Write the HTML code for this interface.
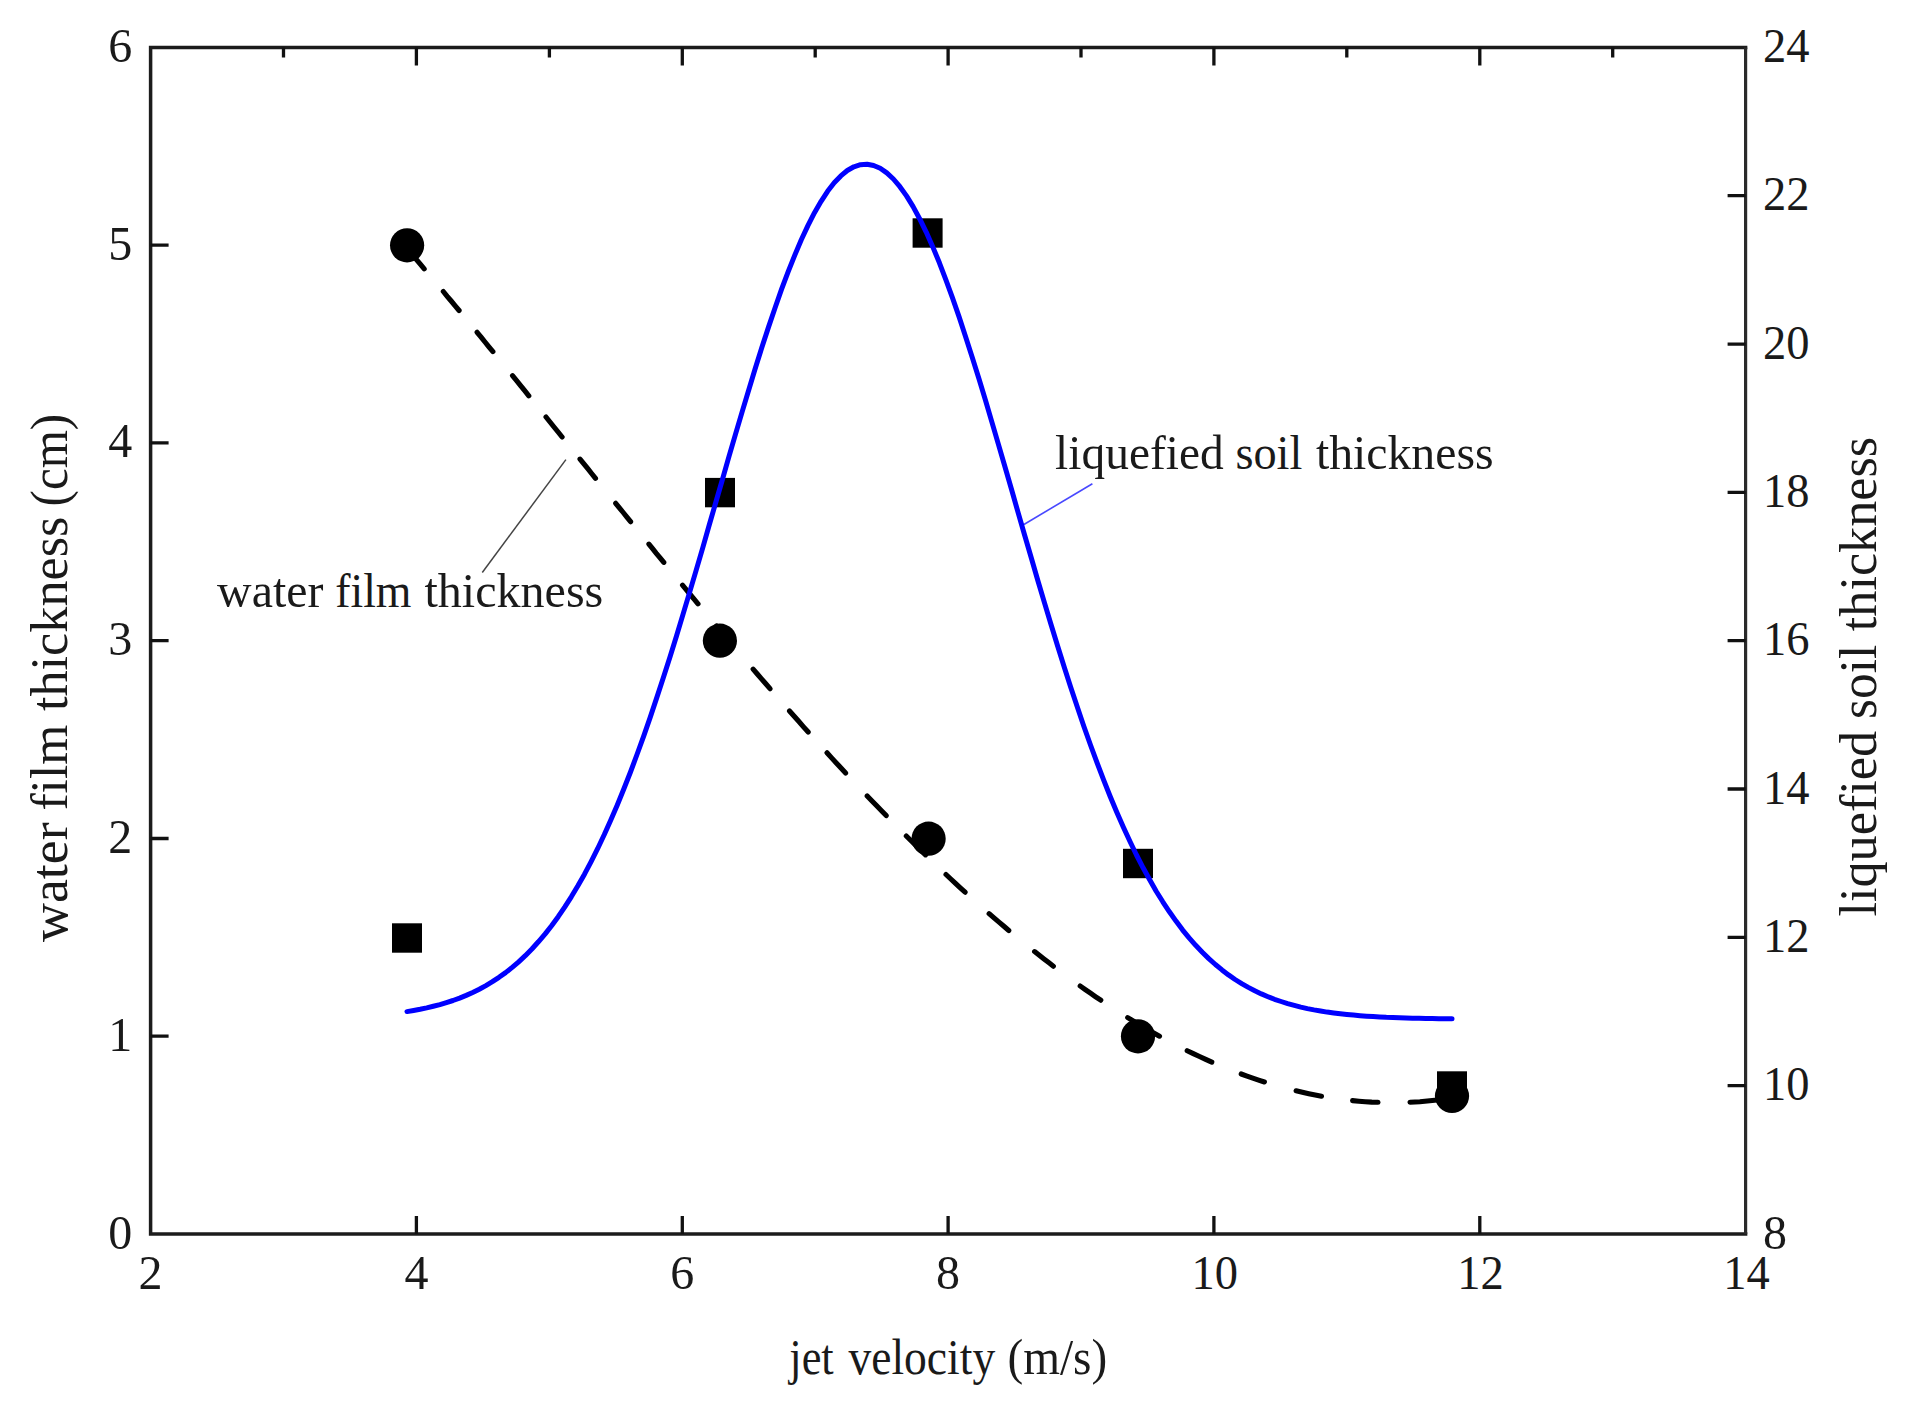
<!DOCTYPE html>
<html lang="en"><head><meta charset="utf-8"><title>jet velocity chart</title>
<style>html,body{margin:0;padding:0;background:#fff;}svg{display:block;}text{font-family:"Liberation Serif","DejaVu Serif",serif;fill:#1a1a1a;}</style></head><body>
<svg width="1913" height="1422" viewBox="0 0 1913 1422">
<rect width="1913" height="1422" fill="#fff"/>
<g fill="none" stroke="#1c1c1c" stroke-width="3.5" stroke-linecap="square">
<path d="M150.6 47.4H1745.6M150.6 1234.0H1745.6M150.6 47.4V1234.0"/>
</g>
<path d="M1745.6 47.4V1234.0" fill="none" stroke="#2a2a2a" stroke-width="3.2" stroke-linecap="butt"/>
<path d="M416.4 47.4v18M416.4 1234.0v-18M682.3 47.4v18M682.3 1234.0v-18M948.1 47.4v18M948.1 1234.0v-18M1213.9 47.4v18M1213.9 1234.0v-18M1479.8 47.4v18M1479.8 1234.0v-18M283.5 47.4v10M549.4 47.4v10M815.2 47.4v10M1081.0 47.4v10M1346.8 47.4v10M1612.7 47.4v10M150.6 1036.2h18M150.6 838.5h18M150.6 640.7h18M150.6 442.9h18M150.6 245.2h18M1745.6 1085.7h-18M1745.6 937.4h-18M1745.6 789.0h-18M1745.6 640.7h-18M1745.6 492.4h-18M1745.6 344.1h-18M1745.6 195.7h-18" fill="none" stroke="#111" stroke-width="3.3"/>
<g font-size="49.5">
<text x="132.3" y="1248.5" text-anchor="end" textLength="24.0" lengthAdjust="spacingAndGlyphs">0</text>
<text x="132.3" y="1050.7" text-anchor="end" textLength="24.0" lengthAdjust="spacingAndGlyphs">1</text>
<text x="132.3" y="853.0" text-anchor="end" textLength="24.0" lengthAdjust="spacingAndGlyphs">2</text>
<text x="132.3" y="655.2" text-anchor="end" textLength="24.0" lengthAdjust="spacingAndGlyphs">3</text>
<text x="132.3" y="457.4" text-anchor="end" textLength="24.0" lengthAdjust="spacingAndGlyphs">4</text>
<text x="132.3" y="259.7" text-anchor="end" textLength="24.0" lengthAdjust="spacingAndGlyphs">5</text>
<text x="132.3" y="61.9" text-anchor="end" textLength="24.0" lengthAdjust="spacingAndGlyphs">6</text>
<text x="1763" y="1248.5" textLength="24.0" lengthAdjust="spacingAndGlyphs">8</text>
<text x="1763" y="1100.2" textLength="46.5" lengthAdjust="spacingAndGlyphs">10</text>
<text x="1763" y="951.9" textLength="46.5" lengthAdjust="spacingAndGlyphs">12</text>
<text x="1763" y="803.5" textLength="46.5" lengthAdjust="spacingAndGlyphs">14</text>
<text x="1763" y="655.2" textLength="46.5" lengthAdjust="spacingAndGlyphs">16</text>
<text x="1763" y="506.9" textLength="46.5" lengthAdjust="spacingAndGlyphs">18</text>
<text x="1763" y="358.6" textLength="46.5" lengthAdjust="spacingAndGlyphs">20</text>
<text x="1763" y="210.2" textLength="46.5" lengthAdjust="spacingAndGlyphs">22</text>
<text x="1763" y="61.9" textLength="46.5" lengthAdjust="spacingAndGlyphs">24</text>
<text x="150.6" y="1289" text-anchor="middle" textLength="24.0" lengthAdjust="spacingAndGlyphs">2</text>
<text x="416.4" y="1289" text-anchor="middle" textLength="24.0" lengthAdjust="spacingAndGlyphs">4</text>
<text x="682.3" y="1289" text-anchor="middle" textLength="24.0" lengthAdjust="spacingAndGlyphs">6</text>
<text x="948.1" y="1289" text-anchor="middle" textLength="24.0" lengthAdjust="spacingAndGlyphs">8</text>
<text x="1214.7" y="1289" text-anchor="middle" textLength="46.5" lengthAdjust="spacingAndGlyphs">10</text>
<text x="1480.6" y="1289" text-anchor="middle" textLength="46.5" lengthAdjust="spacingAndGlyphs">12</text>
<text x="1746.4" y="1289" text-anchor="middle" textLength="46.5" lengthAdjust="spacingAndGlyphs">14</text>
</g>
<text font-size="53" transform="translate(66.7 942.0) rotate(-90)" textLength="119.7" lengthAdjust="spacingAndGlyphs">water</text>
<text font-size="53" transform="translate(66.7 810.6) rotate(-90)" textLength="86.1" lengthAdjust="spacingAndGlyphs">film</text>
<text font-size="53" transform="translate(66.7 711.0) rotate(-90)" textLength="194.3" lengthAdjust="spacingAndGlyphs">thickness</text>
<text font-size="53" transform="translate(66.7 506.4) rotate(-90)" textLength="92.6" lengthAdjust="spacingAndGlyphs">(cm)</text>
<text font-size="53" transform="translate(1875.5 916.6) rotate(-90)" textLength="185.8" lengthAdjust="spacingAndGlyphs">liquefied</text>
<text font-size="53" transform="translate(1875.5 718.9) rotate(-90)" textLength="74.1" lengthAdjust="spacingAndGlyphs">soil</text>
<text font-size="53" transform="translate(1875.5 631.2) rotate(-90)" textLength="194.2" lengthAdjust="spacingAndGlyphs">thickness</text>
<text font-size="50.5" x="789.3" y="1374" textLength="44.4" lengthAdjust="spacingAndGlyphs">jet</text>
<text font-size="50.5" x="848.4" y="1374" textLength="146.8" lengthAdjust="spacingAndGlyphs">velocity</text>
<text font-size="50.5" x="1007.4" y="1374" textLength="99.8" lengthAdjust="spacingAndGlyphs">(m/s)</text>
<text font-size="49" x="217.1" y="607" textLength="106.3" lengthAdjust="spacingAndGlyphs">water</text>
<text font-size="49" x="335.2" y="607" textLength="76.3" lengthAdjust="spacingAndGlyphs">film</text>
<text font-size="49" x="424.5" y="607" textLength="178.8" lengthAdjust="spacingAndGlyphs">thickness</text>
<text font-size="49" x="1055.1" y="469.2" textLength="168.6" lengthAdjust="spacingAndGlyphs">liquefied</text>
<text font-size="49" x="1235.4" y="469.2" textLength="66.9" lengthAdjust="spacingAndGlyphs">soil</text>
<text font-size="49" x="1315.9" y="469.2" textLength="177.7" lengthAdjust="spacingAndGlyphs">thickness</text>
<path d="M565.9 459.6L482.3 572.5" stroke="#444" stroke-width="1.5" fill="none"/>
<path d="M1023.9 524.5L1092.4 483.7" stroke="#4848ff" stroke-width="1.6" fill="none"/>
<rect x="392.0" y="923.3" width="30" height="29.4" fill="#000"/>
<rect x="705.0" y="477.9" width="30" height="29.4" fill="#000"/>
<rect x="912.6" y="218.3" width="30" height="29.4" fill="#000"/>
<rect x="1123.0" y="848.8" width="30" height="29.4" fill="#000"/>
<rect x="1437.0" y="1071.3" width="30" height="29.4" fill="#000"/>
<path d="M409.5 251.4 L413.2 255.7 L416.9 260.1 L420.5 264.4 L424.2 268.8 M443.3 291.5 L447.2 296.3 L451.2 301.0 L455.2 305.8 L459.1 310.5 M477.1 332.3 L481.1 337.1 L485.0 342.0 L488.9 346.8 L492.9 351.6 M512.5 375.7 L516.6 380.7 L520.6 385.7 L524.7 390.7 L528.8 395.8 M546.0 417.0 L550.0 422.0 L554.0 427.0 L558.1 432.0 L562.1 437.0 M580.0 459.1 L583.9 463.9 L587.8 468.7 L591.6 473.5 L595.5 478.3 M615.7 503.3 L619.4 507.9 L623.2 512.5 L626.9 517.1 L630.6 521.7 M648.9 544.1 L652.6 548.7 L656.3 553.3 L660.1 557.8 L663.8 562.4 M682.5 585.1 L686.4 589.8 L690.2 594.5 L694.1 599.1 L698.0 603.8 M716.5 626.0 L719.0 628.9 L721.5 631.9 L724.0 634.9 L726.5 637.8 M753.1 669.1 L757.3 674.0 L761.5 678.9 L765.8 683.8 L770.0 688.7 M789.5 711.0 L794.2 716.3 L798.9 721.5 L803.5 726.8 L808.2 732.0 M827.0 752.8 L831.6 757.9 L836.3 762.9 L841.0 768.0 L845.6 773.0 M867.2 795.9 L872.0 800.9 L876.7 805.8 L881.5 810.7 L886.2 815.6 M906.3 836.0 L911.1 840.7 L915.9 845.5 L920.7 850.2 L925.5 854.9 M946.0 874.5 L950.8 879.0 L955.5 883.4 L960.3 887.8 L965.1 892.2 M989.1 913.6 L994.0 917.9 L999.0 922.1 L1003.9 926.3 L1008.8 930.5 M1034.6 951.6 L1039.3 955.3 L1044.0 959.0 L1048.7 962.6 L1053.4 966.2 M1080.2 986.0 L1085.3 989.6 L1090.5 993.2 L1095.7 996.8 L1100.8 1000.2 M1127.7 1017.6 L1135.7 1022.4 L1143.6 1027.2 L1151.5 1031.7 L1159.5 1036.2 M1187.2 1050.7 L1193.3 1053.6 L1199.5 1056.5 L1205.7 1059.4 L1211.8 1062.1 M1241.2 1074.0 L1247.0 1076.1 L1252.8 1078.1 L1258.6 1080.1 L1264.4 1082.0 M1296.1 1090.8 L1302.4 1092.3 L1308.8 1093.7 L1315.2 1095.0 L1321.5 1096.2 M1352.6 1100.6 L1358.9 1101.2 L1365.3 1101.7 L1371.7 1102.1 L1378.0 1102.3 M1410.0 1102.2 L1419.9 1101.7 L1429.8 1100.8 L1439.6 1099.8 L1449.5 1098.4" fill="none" stroke="#000" stroke-width="5.1" stroke-linecap="round"/>
<circle cx="407.1" cy="245.3" r="17.1" fill="#000"/>
<circle cx="719.9" cy="640.7" r="17.1" fill="#000"/>
<circle cx="928.6" cy="838.7" r="17.1" fill="#000"/>
<circle cx="1138" cy="1036.3" r="17.1" fill="#000"/>
<circle cx="1452" cy="1096" r="17.1" fill="#000"/>
<path d="M407.0 1011.6 L413.6 1010.5 L420.1 1009.3 L426.7 1007.9 L433.3 1006.3 L439.9 1004.6 L446.4 1002.6 L453.0 1000.5 L459.6 998.1 L466.2 995.4 L472.7 992.5 L479.3 989.2 L485.9 985.6 L492.4 981.7 L499.0 977.3 L505.6 972.6 L512.2 967.4 L518.7 961.8 L525.3 955.7 L531.9 949.0 L538.4 941.8 L545.0 934.1 L551.6 925.7 L558.2 916.7 L564.7 907.1 L571.3 896.8 L577.9 885.8 L584.5 874.2 L591.0 861.8 L597.6 848.7 L604.2 834.8 L610.7 820.2 L617.3 804.9 L623.9 788.8 L630.5 772.0 L637.0 754.5 L643.6 736.3 L650.2 717.4 L656.7 697.9 L663.3 677.8 L669.9 657.2 L676.5 636.0 L683.0 614.4 L689.6 592.4 L696.2 570.1 L702.8 547.6 L709.3 524.8 L715.9 502.0 L722.5 479.2 L729.0 456.4 L735.6 433.9 L742.2 411.6 L748.8 389.7 L755.3 368.2 L761.9 347.3 L768.5 327.1 L775.1 307.7 L781.6 289.2 L788.2 271.6 L794.8 255.1 L801.3 239.7 L807.9 225.6 L814.5 212.7 L821.1 201.3 L827.6 191.3 L834.2 182.8 L840.8 175.9 L847.3 170.5 L853.9 166.8 L860.5 164.7 L867.1 164.2 L873.6 165.5 L880.2 168.3 L886.8 172.9 L893.4 179.0 L899.9 186.7 L906.5 195.9 L913.1 206.6 L919.6 218.7 L926.2 232.1 L932.8 246.9 L939.4 262.8 L945.9 279.8 L952.5 297.9 L959.1 316.9 L965.6 336.7 L972.2 357.2 L978.8 378.3 L985.4 400.0 L991.9 422.1 L998.5 444.6 L1005.1 467.2 L1011.7 490.0 L1018.2 512.9 L1024.8 535.7 L1031.4 558.3 L1037.9 580.8 L1044.5 602.9 L1051.1 624.8 L1057.7 646.2 L1064.2 667.1 L1070.8 687.5 L1077.4 707.3 L1083.9 726.5 L1090.5 745.0 L1097.1 762.9 L1103.7 780.1 L1110.2 796.5 L1116.8 812.2 L1123.4 827.2 L1130.0 841.5 L1136.5 855.0 L1143.1 867.8 L1149.7 879.8 L1156.2 891.2 L1162.8 901.8 L1169.4 911.8 L1176.0 921.1 L1182.5 929.8 L1189.1 937.8 L1195.7 945.3 L1202.3 952.2 L1208.8 958.6 L1215.4 964.5 L1222.0 969.9 L1228.5 974.9 L1235.1 979.5 L1241.7 983.6 L1248.3 987.4 L1254.8 990.8 L1261.4 993.9 L1268.0 996.7 L1274.5 999.3 L1281.1 1001.5 L1287.7 1003.6 L1294.3 1005.4 L1300.8 1007.1 L1307.4 1008.6 L1314.0 1009.9 L1320.6 1011.0 L1327.1 1012.1 L1333.7 1013.0 L1340.3 1013.8 L1346.8 1014.5 L1353.4 1015.1 L1360.0 1015.7 L1366.6 1016.2 L1373.1 1016.6 L1379.7 1016.9 L1386.3 1017.3 L1392.8 1017.5 L1399.4 1017.8 L1406.0 1018.0 L1412.6 1018.2 L1419.1 1018.3 L1425.7 1018.5 L1432.3 1018.6 L1438.9 1018.7 L1445.4 1018.8 L1452.0 1018.8" fill="none" stroke="#0000ff" stroke-width="5" stroke-linecap="round" stroke-linejoin="round"/>
</svg></body></html>
